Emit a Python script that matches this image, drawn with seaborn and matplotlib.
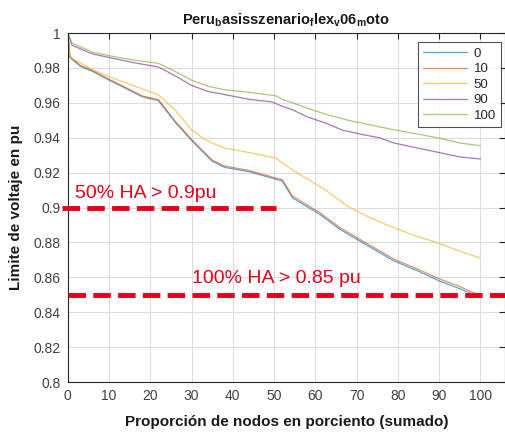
import matplotlib
matplotlib.use("Agg")
import matplotlib.pyplot as plt
import seaborn as sns
import pandas as pd

# ---- data ----
series_names = ["0", "10", "50", "90", "100"]

x_0 = [0, 0.5, 3, 6, 10, 13, 18, 22, 26, 30, 35, 38, 44, 50, 52, 54.5, 58, 61, 66, 71, 75, 79, 85, 90, 95, 98, 100]
y_0 = [1.0, 0.986, 0.981, 0.978, 0.973, 0.9695, 0.9635, 0.9612, 0.949, 0.9385, 0.9265, 0.923, 0.9205, 0.9165, 0.9152, 0.9055, 0.9005, 0.8962, 0.8875, 0.8805, 0.875, 0.8695, 0.8635, 0.858, 0.8535, 0.8505, 0.8495]

x_10 = [0, 0.5, 3, 6, 10, 13, 18, 22, 26, 30, 35, 38, 44, 50, 52, 54.5, 58, 61, 66, 71, 75, 79, 85, 90, 95, 98, 100]
y_10 = [1.0, 0.9865, 0.9815, 0.9785, 0.9735, 0.970, 0.964, 0.9618, 0.9495, 0.939, 0.9272, 0.9238, 0.9212, 0.9172, 0.916, 0.9065, 0.9015, 0.8972, 0.8885, 0.8815, 0.876, 0.8705, 0.8645, 0.8592, 0.8548, 0.8515, 0.850]

x_50 = [0, 0.5, 3, 6, 10, 14, 18, 22, 26, 30, 33.5, 38, 44, 50.5, 52, 54.5, 58, 62.5, 68, 73, 78.5, 84, 90, 95, 100]
y_50 = [1.0, 0.986, 0.983, 0.979, 0.975, 0.9715, 0.968, 0.9645, 0.956, 0.9445, 0.9385, 0.934, 0.9315, 0.9283, 0.9255, 0.9215, 0.9165, 0.910, 0.9005, 0.8945, 0.889, 0.884, 0.8795, 0.875, 0.871]

x_90 = [0, 1, 6, 10, 16, 22, 26, 30, 34, 38.5, 44, 49.5, 52, 54.5, 58, 62.5, 66.5, 71, 75.5, 79, 85, 90, 95, 100]
y_90 = [1.0, 0.993, 0.988, 0.986, 0.983, 0.9805, 0.9755, 0.970, 0.9665, 0.9645, 0.962, 0.9605, 0.958, 0.956, 0.952, 0.9484, 0.9444, 0.942, 0.940, 0.937, 0.934, 0.9315, 0.929, 0.9278]

x_100 = [0, 1, 6, 10, 16, 22, 26, 30, 34, 38, 44, 50.5, 52, 54.5, 58, 62.5, 68, 72, 78.5, 85, 90, 95, 100]
y_100 = [1.0, 0.9943, 0.989, 0.987, 0.9845, 0.9826, 0.978, 0.973, 0.9695, 0.9675, 0.966, 0.964, 0.962, 0.960, 0.957, 0.9535, 0.950, 0.948, 0.9448, 0.942, 0.9398, 0.937, 0.9354]

colors = ["#0072BD", "#D95319", "#EDB120", "#7E2F8E", "#77AC30"]

title_text = r"Peru$_\mathrm{b}$asisszenario$_\mathrm{f}$lex$_\mathrm{v}$06$_\mathrm{m}$oto"
xlabel_text = "Proporción de nodos en porciento (sumado)"
ylabel_text = "Limite de voltaje en pu"
xticks = [0, 10, 20, 30, 40, 50, 60, 70, 80, 90, 100]
yticks = [0.8, 0.82, 0.84, 0.86, 0.88, 0.9, 0.92, 0.94, 0.96, 0.98, 1.0]
ytick_labels = ["0.8", "0.82", "0.84", "0.86", "0.88", "0.9", "0.92", "0.94", "0.96", "0.98", "1"]

ref_levels = [0.9, 0.85]
ref_starts = [-1.4, 0]
ref_ends = [50.6, 106]
ref_texts = ["50% HA > 0.9pu", "100% HA > 0.85 pu"]
ref_text_pos = [(1.7, 0.9054), (30, 0.857)]

# ---- build long table ----
frames = []
for name, xs, ys in zip(series_names,
                        [x_0, x_10, x_50, x_90, x_100],
                        [y_0, y_10, y_50, y_90, y_100]):
    frames.append(pd.DataFrame({"x": xs, "y": ys, "series": name}))
df = pd.concat(frames, ignore_index=True)

sns.set_theme(style="white")
plt.rcParams["font.family"] = ["Liberation Sans", "DejaVu Sans"]
plt.rcParams["mathtext.fontset"] = "custom"
plt.rcParams["mathtext.rm"] = "Liberation Sans:bold"

fig = plt.figure(figsize=(5.06, 4.32), dpi=100)
ax = fig.add_axes([0.134, 0.1157, 0.864, 0.8079])

sns.lineplot(data=df, x="x", y="y", hue="series", hue_order=series_names,
             palette=dict(zip(series_names, colors)), estimator=None, sort=False,
             linewidth=0.9, alpha=0.65, ax=ax, legend=False)

# reference lines and annotations
for lvl, start, end in zip(ref_levels, ref_starts, ref_ends):
    ax.plot([start, end], [lvl, lvl], color="#E3001B", linestyle=(0, (3.6, 1.5)),
            linewidth=3.5, solid_capstyle="butt", dash_capstyle="butt", zorder=5,
            clip_on=(end > 100))
for txt, (tx, ty) in zip(ref_texts, ref_text_pos):
    ax.text(tx, ty, txt, color="#E3001B", fontsize=14, ha="left", va="baseline", zorder=6)

ax.set_xlim(0, 106)
ax.set_ylim(0.8, 1.0)
ax.set_xticks(xticks)
ax.set_yticks(yticks)
ax.set_yticklabels(ytick_labels)
ax.grid(True, color="#DDDDDD", linewidth=0.8)
ax.set_axisbelow(True)
ax.tick_params(direction="in", length=4, width=0.8, colors="#262626",
               labelsize=10, top=True, right=True, labelcolor="#404040", pad=5)
for s in ax.spines.values():
    s.set_visible(True)
    s.set_color("#262626")
    s.set_linewidth(0.8)

ax.set_xlabel(xlabel_text, fontsize=11, fontweight="bold", color="#1a1a1a", labelpad=9)
ax.set_ylabel(ylabel_text, fontsize=11, fontweight="bold", color="#1a1a1a", labelpad=8)
ax.set_title(title_text, fontsize=10.5, fontweight="bold", color="#1a1a1a", pad=6)

handles = [plt.Line2D([], [], color=c, linewidth=0.9, alpha=0.65) for c in colors]
leg = ax.legend(handles, series_names, loc="upper right", fontsize=9.5,
                frameon=True, fancybox=False, edgecolor="#262626",
                handlelength=3.3, handletextpad=0.5, borderpad=0.4,
                labelspacing=0.25, borderaxespad=0.3,
                bbox_to_anchor=(1.0, 0.985))
leg.get_frame().set_linewidth(0.8)
for t in leg.get_texts():
    t.set_color("#262626")

fig.savefig("out.png", dpi=100)
